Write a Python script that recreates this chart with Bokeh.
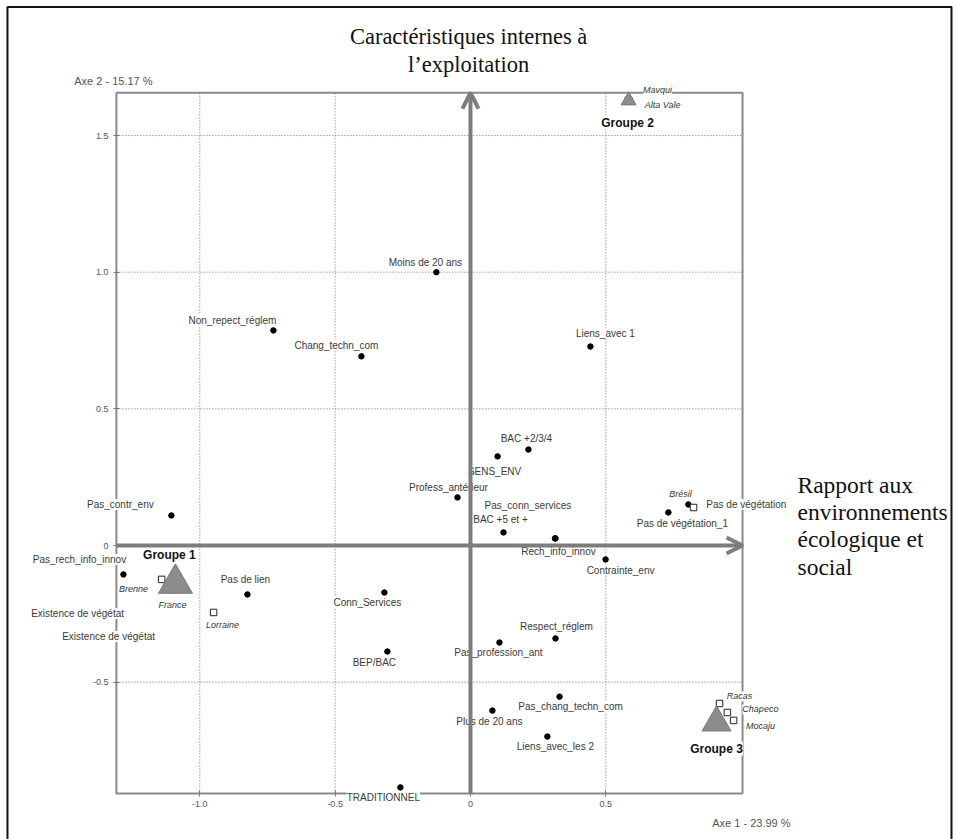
from bokeh.plotting import figure
from bokeh.models import (ColumnDataSource, LabelSet, Label, Arrow, OpenHead, Range1d,
                          FixedTicker, LinearAxis)
from bokeh.core.properties import value
from bokeh.embed import file_html
from bokeh.resources import INLINE

# ---------------- data ----------------
# active modalities (black dots)
mod_names = ["Moins de 20 ans", "Non_repect_réglem", "Chang_techn_com", "Liens_avec 1",
             "BAC +2/3/4", "SENS_ENV", "Profess_antérieur", "BAC +5 et +",
             "Pas_conn_services", "Rech_info_innov", "Contrainte_env",
             "Pas de végétation_1", "Pas de végétation", "Pas_contr_env",
             "Pas_rech_info_innov", "Pas de lien", "Conn_Services", "BEP/BAC",
             "Respect_réglem", "Pas_profession_ant", "Pas_chang_techn_com",
             "Plus de 20 ans", "Liens_avec_les 2", "TRADITIONNEL"]
mod_x = [-0.126, -0.728, -0.403, 0.443, 0.214, 0.100, -0.048, 0.122,
         0.312, 0.314, 0.499, 0.731, 0.805, -1.105, -1.282, -0.824,
         -0.318, -0.307, 0.314, 0.107, 0.329, 0.081, 0.284, -0.259]
mod_y = [1.000, 0.787, 0.692, 0.728, 0.351, 0.326, 0.176, 0.048,
         0.026, 0.026, -0.051, 0.121, 0.150, 0.110, -0.106, -0.179,
         -0.172, -0.388, -0.340, -0.355, -0.553, -0.604, -0.699, -0.885]

# modalities whose marker is hidden under their label at the left edge
hid_names = ["Existence de végétat", "Existence de végétat"]
hid_x = [-1.300, -1.300]
hid_y = [-0.249, -0.333]

# sites (open squares)
site_names = ["Brenne", "France", "Lorraine", "Brésil", "Mavqui", "Alta Vale",
              "Racas", "Chapeco", "Mocaju"]
site_x = [-1.141, -1.101, -0.949, 0.824, 0.584, 0.584, 0.920, 0.949, 0.972]
site_y = [-0.124, -0.161, -0.245, 0.139, 1.628, 1.628, -0.578, -0.611, -0.640]

# groups (grey triangles)
grp_names = ["Groupe 1", "Groupe 2", "Groupe 3"]
grp_x = [-1.090, 0.584, 0.909]
grp_y = [-0.139, 1.628, -0.648]

x_ticks = [-1.0, -0.5, 0.0, 0.5]
x_tick_labels = ["-1.0", "-0.5", "0", "0.5"]
y_ticks = [-0.5, 0.0, 0.5, 1.0, 1.5]
y_tick_labels = ["-0.5", "0", "0.5", "1.0", "1.5"]

axis1_title = "Axe 1  -  23.99 %"
axis2_title = "Axe 2  -  15.17 %"
top_title = ["Caractéristiques internes à", "l’exploitation"]
right_title = ["Rapport aux", "environnements", "écologique et", "social"]

# extent of the factorial map (inner box)
x_min, x_max = -1.308, 1.005
y_min, y_max = -0.907, 1.657

# ---------------- layout / style ----------------
# visible canvas in map units (the frame covers the whole picture)
view_x = (-1.7362, 1.7954)
view_y = (-1.0757, 1.9941)
# outer black page border (bottom edge lies below the picture)
page_box = dict(left=-1.7104, right=1.7769, top=1.9704, bottom=-1.2)

# label offsets in pixels
mod_off = {
    "Moins de 20 ans": (-11, 10), "Non_repect_réglem": (-41, 10),
    "Chang_techn_com": (-25, 11), "Liens_avec 1": (15, 13),
    "BAC +2/3/4": (-2, 11), "SENS_ENV": (-3, -15),
    "Profess_antérieur": (-9, 10), "BAC +5 et +": (-3, 13),
    "Pas_conn_services": (-27, 33), "Rech_info_innov": (3, -13),
    "Contrainte_env": (15, -11), "Pas de végétation_1": (14, -11),
    "Pas de végétation": (58, 0), "Pas_contr_env": (-51, 11),
    "Pas_rech_info_innov": (-44, 15), "Pas de lien": (-2, 15),
    "Conn_Services": (-17, -10), "BEP/BAC": (-13, -11),
    "Respect_réglem": (1, 12), "Pas_profession_ant": (-1, -10),
    "Pas_chang_techn_com": (11, -10), "Plus de 20 ans": (-3, -11),
    "Liens_avec_les 2": (8, -10), "TRADITIONNEL": (-17, -10),
}
hid_off = [(-41, 0), (-10, 0)]
site_off = {"Brenne": (-28, -10), "France": (0, -15), "Lorraine": (9, -13),
            "Brésil": (-13, 14), "Mavqui": (29, 11), "Alta Vale": (34, -4),
            "Racas": (20, 7), "Chapeco": (33, 3), "Mocaju": (27, -6)}
grp_off = [(-6, 28), (-1, -22), (0, -26)]
grp_size = [34, 15, 29]

SANS = "helvetica"
SERIF = "times"
GREY = "#7d7d7d"
BOX = "#8a8a8a"

p = figure(width=956, height=839, output_backend="svg", toolbar_location=None,
           x_range=Range1d(*view_x), y_range=Range1d(*view_y),
           x_axis_location=None, y_axis_location=None,
           min_border=0, background_fill_color="white", border_fill_color="white",
           outline_line_color=None)
p.xgrid.visible = False
p.ygrid.visible = False

# outer page border
p.quad(left=[page_box["left"]], right=[page_box["right"]], top=[page_box["top"]],
       bottom=[page_box["bottom"]], fill_color=None, line_color="#111111", line_width=2)

# inner box
p.quad(left=[x_min], right=[x_max], bottom=[y_min], top=[y_max],
       fill_color=None, line_color=BOX, line_width=2)

# dotted grid inside the box, one line per tick
p.segment(x0=x_ticks, y0=[y_min] * len(x_ticks), x1=x_ticks, y1=[y_max] * len(x_ticks),
          line_color="#6f6f6f", line_dash="1 2", line_width=1)
p.segment(x0=[x_min] * len(y_ticks), y0=y_ticks, x1=[x_max] * len(y_ticks), y1=y_ticks,
          line_color="#6f6f6f", line_dash="1 2", line_width=1)

# axes pinned on the box edges
xax = LinearAxis(fixed_location=y_min, ticker=FixedTicker(ticks=x_ticks),
                 major_label_overrides={t: l for t, l in zip(x_ticks, x_tick_labels)})
yax = LinearAxis(fixed_location=x_min, ticker=FixedTicker(ticks=y_ticks),
                 major_label_overrides={t: l for t, l in zip(y_ticks, y_tick_labels)})
for ax in (xax, yax):
    ax.axis_line_color = None
    ax.major_tick_line_color = "#777777"
    ax.major_tick_in = 3
    ax.major_tick_out = 3
    ax.minor_tick_line_color = None
    ax.major_label_text_font = SANS
    ax.major_label_text_font_size = "9px"
    ax.major_label_text_color = "#555555"
    ax.major_label_standoff = 5
p.add_layout(xax, "below")
p.add_layout(yax, "left")

# markers
mod_src = ColumnDataSource(dict(x=mod_x, y=mod_y, name=mod_names,
                                dx=[mod_off[n][0] for n in mod_names],
                                dy=[mod_off[n][1] for n in mod_names]))
hid_src = ColumnDataSource(dict(x=hid_x, y=hid_y, name=hid_names,
                                dx=[o[0] for o in hid_off], dy=[o[1] for o in hid_off]))
site_src = ColumnDataSource(dict(x=site_x, y=site_y, name=site_names,
                                 dx=[site_off[n][0] for n in site_names],
                                 dy=[site_off[n][1] for n in site_names]))
grp_src = ColumnDataSource(dict(x=grp_x, y=grp_y, name=grp_names, size=grp_size,
                                dx=[o[0] for o in grp_off], dy=[o[1] for o in grp_off]))

p.scatter("x", "y", source=mod_src, marker="circle", size=5.5,
          fill_color="black", line_color="black")
p.scatter("x", "y", source=site_src, marker="square", size=6.5,
          fill_color="white", line_color="#222222", line_width=1)
p.scatter("x", "y", source=grp_src, marker="triangle", size="size",
          fill_color="#8c8c8c", line_color="#777777", line_width=1)

# labels
common = dict(x="x", y="y", text="name", x_offset="dx", y_offset="dy",
              text_align="center", text_baseline="middle",
              background_fill_color="white", text_font=value(SANS))
p.add_layout(LabelSet(source=mod_src, text_font_size="10px", text_color="#3a3a3a", **common))
p.add_layout(LabelSet(source=hid_src, text_font_size="10px", text_color="#3a3a3a", **common))
p.add_layout(LabelSet(source=site_src, text_font_size="9px", text_color="#333333",
                      text_font_style="italic", **common))
p.add_layout(LabelSet(source=grp_src, text_font_size="12px", text_color="#111111",
                      text_font_style="bold", **common))

# axes arrows
p.add_layout(Arrow(x_start=0, y_start=y_min, x_end=0, y_end=y_max,
                   line_color=GREY, line_width=4,
                   end=OpenHead(size=16, line_color=GREY, line_width=4)))
p.add_layout(Arrow(x_start=x_min, y_start=0, x_end=x_max, y_end=0,
                   line_color=GREY, line_width=4,
                   end=OpenHead(size=16, line_color=GREY, line_width=4)))

# axis titles
p.add_layout(Label(x=x_min, y=1.701, text=axis2_title, text_align="center",
                   text_baseline="middle", text_font=SANS, text_font_size="11px",
                   text_color="#555555"))
p.add_layout(Label(x=1.049, y=-1.014, text=axis1_title, text_align="center",
                   text_baseline="middle", text_font=SANS, text_font_size="11px",
                   text_color="#555555"))

# top title (meaning of the vertical axis)
for yy, line in zip([1.862, 1.760], top_title):
    p.add_layout(Label(x=-0.007, y=yy, text=line, text_align="center",
                       text_baseline="middle", text_font=SERIF,
                       text_font_size="22.5px", text_color="#111111"))
# right title (meaning of the horizontal axis)
for yy, line in zip([0.223, 0.121, 0.022, -0.077], right_title):
    p.add_layout(Label(x=1.208, y=yy, text=line, text_align="left",
                       text_baseline="middle", text_font=SERIF,
                       text_font_size="23.5px", text_color="#111111"))

open("out.html", "w").write(file_html(p, INLINE))
